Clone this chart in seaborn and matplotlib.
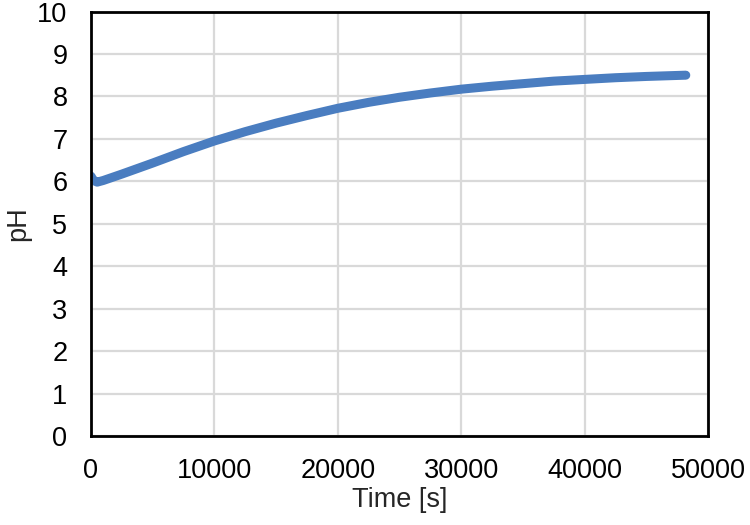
import matplotlib
matplotlib.use("Agg")
import matplotlib.pyplot as plt
import seaborn as sns
import pandas as pd

time_s = [0, 200, 500, 1000, 2500, 5000, 7500, 10000, 12500, 15000, 17500,
          20000, 22500, 25000, 27500, 30000, 32500, 35000, 37500, 40000,
          42500, 45000, 48200]
ph = [6.12, 6.02, 5.98, 6.02, 6.17, 6.43, 6.70, 6.95, 7.17, 7.37, 7.55,
      7.72, 7.86, 7.98, 8.08, 8.17, 8.24, 8.30, 8.36, 8.40,
      8.44, 8.47, 8.50]
x_ticks = [0, 10000, 20000, 30000, 40000, 50000]
y_ticks = list(range(0, 11))

df = pd.DataFrame({"Time [s]": time_s, "pH": ph})

sns.set_style("white")
plt.rcParams['font.family'] = ['Liberation Sans', 'DejaVu Sans']

fig = plt.figure(figsize=(7.5, 5.25), dpi=100)
ax = fig.add_axes([91 / 750, 1 - 436 / 525, (708 - 91) / 750, (436 - 11.5) / 525])

sns.lineplot(data=df, x="Time [s]", y="pH", ax=ax, color="#4A7DC0",
             linewidth=6.5, solid_capstyle="round", solid_joinstyle="round")

ax.set_xlim(0, 50000)
ax.set_ylim(0, 10)
ax.set_xticks(x_ticks)
ax.set_yticks(y_ticks)
ax.set_xticklabels([str(v) for v in x_ticks])
ax.set_yticklabels([str(v) for v in y_ticks])
ax.grid(True, color="#D9D9D9", linewidth=1.6)
ax.set_axisbelow(True)
for s in ax.spines.values():
    s.set_visible(True)
    s.set_color("black")
    s.set_linewidth(2.0)
ax.tick_params(axis="both", length=0, labelsize=19.5, colors="black")
ax.tick_params(axis="x", pad=16)
ax.tick_params(axis="y", pad=17)
ax.set_xlabel("Time [s]", fontsize=19.5, labelpad=2)
ax.set_ylabel("pH", fontsize=19.5, labelpad=4)

fig.savefig("out.png", dpi=100)
